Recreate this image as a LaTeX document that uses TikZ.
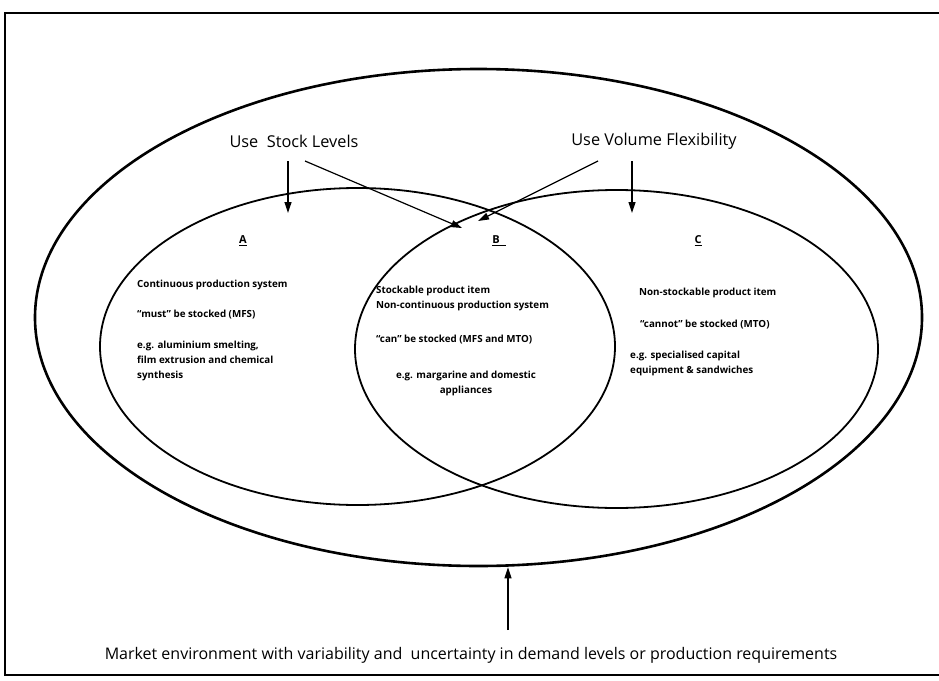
\documentclass[tikz,border=0pt]{standalone}
\usepackage{fontspec}
\setmainfont{Open Sans}
\usetikzlibrary{shapes.geometric,arrows.meta}
\begin{document}
\begin{tikzpicture}[x=1pt,y=-1pt,
  ring/.style={draw, ellipse, inner sep=0pt, line width=1.8pt},
  body/.style={font=\fontsize{9.8}{15}\selectfont\bfseries, inner sep=0pt},
  head/.style={font=\fontsize{16.3}{18}\selectfont, inner sep=0pt},
  letter/.style={font=\fontsize{11}{12}\selectfont\bfseries, inner sep=0pt},
  pointer/.style={-{Triangle[length=11pt,width=7pt]}, line width=1.2pt}]
\useasboundingbox (0,0) rectangle (939,680);
% frame (open at the right)
\draw[line width=2.2pt] (939,13) -- (5,13) -- (5,675) -- (939,675);

% market ring and the two production regions
\node[ring, line width=2.6pt, minimum width=887pt, minimum height=497pt] (market) at (478.5,317.5) {};
\node[ring, minimum width=515pt, minimum height=317pt] (regA) at (357.5,346.5) {};
\node[ring, minimum width=523pt, minimum height=318pt] (regC) at (616.5,349) {};

% headings
\node[head] (stock) at (294,141) {Use\ \ Stock Levels};
\node[head] (flex) at (654,141) {Use Volume Flexibility};
\coordinate (stockA) at (288,213);
\coordinate (stockB) at (462,228);
\coordinate (flexB) at (478,221);
\coordinate (flexC) at (632,213);
\draw[pointer] (288,161) -- (stockA);
\draw[pointer] (305,161) -- (stockB);
\draw[pointer] (598,161) -- (flexB);
\draw[pointer] (632,161) -- (flexC);

% region letters
\node[letter] (lA) at (243,241) {\underline{A}};
\node[letter] (lB) at (499,241) {\underline{B\kern6pt}};
\node[letter] (lC) at (698,241) {\underline{C}};

% region A
\node[body, anchor=west] (a1) at (137,285) {Continuous production system};
\node[body, anchor=west] (a2) at (137,315) {“must” be stocked (MFS)};
\node[body, anchor=north west, align=left] (a3) at (137,341) {e.g. aluminium smelting,\\film extrusion and chemical\\synthesis};

% region B (overlap)
\node[body, anchor=north west, align=left] (b1) at (376,286) {Stockable product item\\Non-continuous production system};
\node[body, anchor=west] (b2) at (376,340) {“can” be stocked (MFS and MTO)};
\node[body, anchor=north, align=center] (b3) at (466,371) {e.g. margarine and domestic\\appliances};

% region C
\node[body, anchor=west] (c1) at (639,293) {Non-stockable product item};
\node[body, anchor=west] (c2) at (640,325) {“cannot” be stocked (MTO)};
\node[body, anchor=north west, align=left] (c3) at (630,351) {e.g. specialised capital\\equipment \& sandwiches};

% market environment
\node[font=\fontsize{16}{18}\selectfont, inner sep=0pt] (env) at (471,655) {Market environment with variability and\ \ uncertainty in demand levels or production requirements};
\coordinate (envtail) at (508,630);
\draw[pointer] (envtail) -- (market.south -| envtail);
\end{tikzpicture}
\end{document}
